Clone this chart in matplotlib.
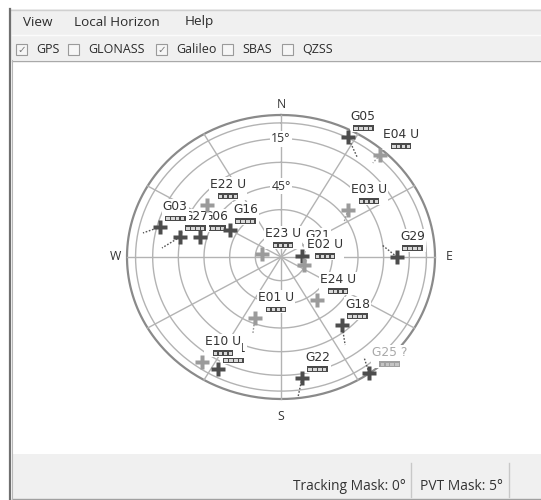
import numpy as np
import matplotlib
matplotlib.use("Agg")
import matplotlib.pyplot as plt
from matplotlib.patches import Rectangle
from matplotlib.offsetbox import TextArea, DrawingArea, VPacker, AnnotationBbox

plt.rcParams['font.family'] = ['Open Sans', 'DejaVu Sans']

# ---------------- data ----------------
# draw order matters: later labels hide parts of earlier ones
sat_ids    = ['G06', 'G27', 'G03', 'G16', 'E22', 'G21', 'E23', 'E02', 'G05', 'E04',
              'E03', 'G29', 'E24', 'E01', 'G18', 'G31', 'E10', 'G22', 'G25']
sat_flag   = ['',    '',    '',    '',    ' U',  '',    ' U',  ' U',  '',    ' U',
              ' U',  '',    ' U',  ' U',  '',    '',    ' U',  '',    ' ?']
sat_az     = [285.0, 282.1, 285.0, 299.9, 307.3, 87.0, 279.7, 110.6, 27.2, 41.8,
              52.7, 90.0, 142.3, 201.5, 140.4, 207.4, 214.8, 170.9, 145.0]
sat_el     = [41.0, 29.6, 16.7, 55.6, 35.6, 77.7, 78.7, 75.7, 4.5, 3.2,
              40.8, 22.2, 55.6, 48.4, 34.1, 10.0, 9.0, 12.3, 0.3]
sat_healthy = [True] * 18 + [False]

# short tracks (earlier positions) for some satellites
trail_ids = ['G05', 'G03', 'G27', 'G29', 'G18', 'G22', 'G25', 'E01', 'E04', 'E03']
trail_az  = [35.1, 280.7, 274.7, 82.6, 146.1, 173.6, 142.6, 198.8, 42.0, 59.0]
trail_el  = [12.6, 7.9, 20.2, 30.5, 22.8, 0.7, 10.2, 39.1, 9.8, 47.0]

elev_circles = [0, 5, 15, 30, 45, 60, 75]
elev_labels = [15, 45]
spoke_az = list(range(0, 360, 30))
compass_names = ['N', 'E', 'S', 'W']
compass_az = [0, 90, 180, 270]

menu_items = ['View', 'Local Horizon', 'Help']
filter_names = ['GPS', 'GLONASS', 'Galileo', 'SBAS', 'QZSS']
filter_checked = [True, False, True, False, False]
status_texts = ['Tracking Mask: 0°', 'PVT Mask: 5°']

# ---------------- figure & window chrome ----------------
W, H = 541, 500
fig = plt.figure(figsize=(W / 100, H / 100), dpi=100)
fig.patch.set_facecolor('white')
bg = fig.add_axes([0, 0, 1, 1])
bg.set_xlim(0, W)
bg.set_ylim(H, 0)
bg.axis('off')

UI = '#f0f0f0'
bg.add_patch(Rectangle((10, 9), W - 10, 51, fc=UI, ec='none'))
bg.plot([10, W], [9.5, 9.5], color='#d0d0d0', lw=1)
bg.plot([12, W], [34.5, 34.5], color='#fbfbfb', lw=1)
bg.plot([12, W], [60.5, 60.5], color='#a9a9a9', lw=1)
bg.add_patch(Rectangle((12, 454), W - 12, 46, fc=UI, ec='none'))
bg.plot([12, W], [498.5, 498.5], color='#a0a0a0', lw=1)
bg.plot([10, 10], [9, H], color='#707070', lw=1.6)
bg.plot([12.3, 12.3], [60, H], color='#b8b8b8', lw=0.8)

UI_FS = 9.7
menu_x = [23, 74, 185]
for name, mx in zip(menu_items, menu_x):
    bg.text(mx, 22, name, fontsize=UI_FS, color='#2b2b2b', va='center', ha='left')

box_x = [16, 68, 156, 222, 282]
for name, cx, chk in zip(filter_names, box_x, filter_checked):
    bg.add_patch(Rectangle((cx, 44), 11, 11, fc='#f6f6f6', ec='#9a9a9a', lw=0.8))
    if chk:
        bg.text(cx + 5.5, 49.8, '\u2713', family='DejaVu Sans', fontsize=7.5,
                color='#7a7a7a', ha='center', va='center')
    bg.text(cx + 20, 49.5, name, fontsize=9.0, color='#2b2b2b', va='center', ha='left')

bg.text(406, 486, status_texts[0], fontsize=UI_FS + 0.2, color='#333333', ha='right', va='center')
bg.text(503, 486, status_texts[1], fontsize=UI_FS + 0.2, color='#333333', ha='right', va='center')
for sx in [411, 509]:
    bg.plot([sx, sx], [463, 497], color='#c8c8c8', lw=1)

# ---------------- sky plot ----------------
cx_px, cy_px, rx_px, ry_px = 281, 257, 154, 142
ax = fig.add_axes([(cx_px - rx_px) / W, (H - cy_px - ry_px) / H,
                   2 * rx_px / W, 2 * ry_px / H])
ax.set_xlim(-90, 90)
ax.set_ylim(-90, 90)
ax.set_aspect('auto')
ax.axis('off')


def to_xy(az, el):
    r = 90.0 - np.asarray(el, dtype=float)
    a = np.radians(np.asarray(az, dtype=float))
    return r * np.sin(a), r * np.cos(a)


t = np.linspace(0, 2 * np.pi, 400)
for e in elev_circles:
    r = 90 - e
    if e == 0:
        col, lw = '#8a8a8a', 1.6
    else:
        col, lw = '#b3b3b3', 1.0
    ax.plot(r * np.sin(t), r * np.cos(t), color=col, lw=lw, zorder=1, clip_on=False)

for a in spoke_az:
    x, y = to_xy([a, a], [90, 0])
    ax.plot(x, y, color='#b3b3b3', lw=1.0, zorder=1, clip_on=False)

for e in elev_labels:
    ax.text(0, 90 - e, f'{e}°', fontsize=8.8, color='#333333', ha='center', va='center',
            bbox=dict(fc='white', ec='none', pad=1.0), zorder=2)

comp_off = {'N': (0, 11), 'E': (14, 0), 'S': (0, -17), 'W': (-12, 0)}
for name, a in zip(compass_names, compass_az):
    x, y = to_xy(a, 0)
    ax.annotate(name, (x, y), xytext=comp_off[name], textcoords='offset pixels',
                fontsize=8.8, color='#333333', ha='center', va='center',
                annotation_clip=False)

# tracks
for sid, ta, te in zip(trail_ids, trail_az, trail_el):
    i = sat_ids.index(sid)
    x, y = to_xy([sat_az[i], ta], [sat_el[i], te])
    col = '#555555' if sid.startswith('G') else '#9a9a9a'
    ax.plot(x, y, color=col, lw=1.0, ls=(0, (1.2, 1.2)), zorder=3, clip_on=False)


def make_bar(color, cell):
    w, h = 15.0, 4.0
    da = DrawingArea(w, h, 0, 0)
    da.add_artist(Rectangle((0, 0), w, h, fc=color, ec='none'))
    gap = 1.0
    cw = (w - 5 * gap) / 4
    for k in range(4):
        da.add_artist(Rectangle((gap + k * (cw + gap), gap), cw, h - 2 * gap,
                                fc=cell, ec='none'))
    return da


for k, (sid, flg, a, e, ok) in enumerate(zip(sat_ids, sat_flag, sat_az, sat_el, sat_healthy)):
    x, y = to_xy(a, e)
    gps = sid.startswith('G')
    cross_col = '#4d4d4d' if gps else '#9b9b9b'
    ax.plot([x], [y], marker='P', ms=10.5, color=cross_col, mec='none', zorder=40,
            clip_on=False)
    tcol = '#333333' if ok else '#a8a8a8'
    bcol = '#4a4a4a' if ok else '#a0a0a0'
    ccol = '#d8d8d8' if ok else '#c4c4c4'
    txt = TextArea(sid + flg, textprops=dict(fontsize=8.8, color=tcol, family=['DejaVu Sans']))
    pack = VPacker(children=[txt, make_bar(bcol, ccol)], align='center', pad=0, sep=1.5)
    ab = AnnotationBbox(pack, (x, y), xybox=(3, 6), xycoords='data',
                        boxcoords='offset pixels', box_alignment=(0, 0),
                        frameon=True, pad=0.08,
                        bboxprops=dict(fc='white', ec='none'),
                        annotation_clip=False, zorder=10 + k)
    ax.add_artist(ab)

fig.savefig('out.png', dpi=100)
